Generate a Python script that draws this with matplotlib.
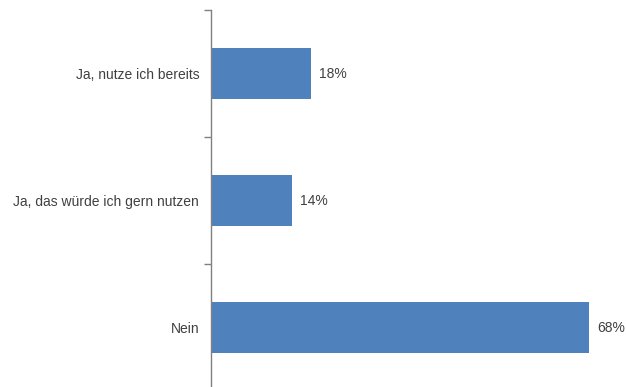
import matplotlib
matplotlib.use("Agg")
import matplotlib.pyplot as plt

categories = ["Ja, nutze ich bereits", "Ja, das würde ich gern nutzen", "Nein"]
values = [18, 14.6, 67.9]
value_labels = ["18%", "14%", "68%"]

W, H = 626, 387
dpi = 100
fig = plt.figure(figsize=(W / dpi, H / dpi), dpi=dpi)
left = 211 / W
right = 626 / W
top = 1 - 10 / H
bottom = 1 - 391 / H
ax = fig.add_axes([left, bottom, right - left, top - bottom])

font = "Liberation Sans"
txt = "#404040"
bar_color = "#4F81BD"

ypos = list(range(len(categories)))
ax.barh(ypos, values, height=0.40, color=bar_color, edgecolor="none")
ax.set_ylim(len(categories) - 0.5, -0.5)
ax.set_xlim(0, 74.6)

for y, v, lab in zip(ypos, values, value_labels):
    ax.annotate(lab, xy=(v, y), xytext=(5.8, 0), textcoords="offset points",
                va="center", ha="left", fontsize=10, family=font, color=txt)

ax.set_yticks(ypos)
ax.set_yticklabels(categories, fontsize=10, family=font, color=txt)
ax.set_yticks([-0.5, 0.5, 1.5, 2.5], minor=True)
ax.tick_params(axis="y", which="major", length=0, pad=8.5)
ax.tick_params(axis="y", which="minor", length=5, width=1, color="#808080")
ax.set_xticks([])
for s in ["top", "right", "bottom"]:
    ax.spines[s].set_visible(False)
ax.spines["left"].set_color("#808080")
ax.spines["left"].set_linewidth(1)

fig.savefig("out.png", dpi=dpi)
